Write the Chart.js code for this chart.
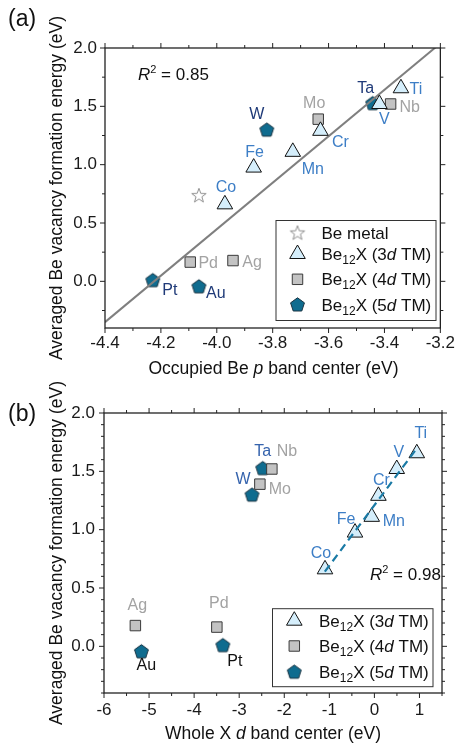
<!DOCTYPE html>
<html><head><meta charset="utf-8">
<script src="https://cdn.jsdelivr.net/npm/chart.js@4/dist/chart.umd.min.js"></script>
<style>
html,body{margin:0;padding:0;background:#fff;}
body{width:460px;height:747px;overflow:hidden;position:relative;}
#ca{position:absolute;left:0;top:0;}
#cb{position:absolute;left:0;top:379px;}
</style></head><body>
<canvas id="ca" width="460" height="379"></canvas>
<canvas id="cb" width="460" height="368"></canvas>
<script>
// ---------------- data ----------------
const elem3d  = ['Ti', 'V', 'Cr', 'Mn', 'Fe', 'Co'];
const eVac3d  = [1.655, 1.52, 1.29, 1.11, 0.975, 0.66];
const pBand3d = [-3.341, -3.418, -3.629, -3.728, -3.868, -3.971];
const dBand3d = [0.941, 0.496, 0.089, -0.059, -0.43, -1.096];

const elem4d  = ['Nb', 'Mo', 'Pd', 'Ag'];
const eVac4d  = [1.52, 1.39, 0.165, 0.178];
const pBand4d = [-3.378, -3.637, -4.095, -3.942];
const dBand4d = [-2.275, -2.541, -3.496, -5.304];

const elem5d  = ['Ta', 'W', 'Pt', 'Au'];
const eVac5d  = [1.527, 1.30, 0.01, -0.043];
const pBand5d = [-3.442, -3.821, -4.229, -4.064];
const dBand5d = [-2.478, -2.715, -3.363, -5.17];

const beMetalP = [-4.064];
const beMetalE = [0.739];

const fitAX = [-4.4, -3.2];
const fitAY = [-0.35, 2.04];
const fitBX = [-1.1, 0.9];
const fitBY = [0.64, 1.676];

const xTicksA = [-4.4, -4.2, -4.0, -3.8, -3.6, -3.4, -3.2];
const xTicksB = [-6, -5, -4, -3, -2, -1, 0, 1];
const yTicks  = [0.0, 0.5, 1.0, 1.5, 2.0];
const r2A = '0.85';
const r2B = '0.98';

// ---------------- helpers ----------------
const FONT = '"Liberation Sans", Arial, Helvetica, sans-serif';
const zip = (xs, ys) => xs.map((x, i) => ({x: x, y: ys[i]}));

function pentagonImg(R, fill, stroke, lw) {
  const s = Math.ceil(2 * R + 2 * lw + 2);
  const c = document.createElement('canvas'); c.width = s; c.height = s;
  const g = c.getContext('2d');
  g.beginPath();
  for (let k = 0; k < 5; k++) {
    const a = -Math.PI / 2 + k * 2 * Math.PI / 5;
    const px = s / 2 + R * Math.cos(a), py = s / 2 + 0.6 + R * Math.sin(a);
    k ? g.lineTo(px, py) : g.moveTo(px, py);
  }
  g.closePath(); g.fillStyle = fill; g.fill();
  g.lineWidth = lw; g.strokeStyle = stroke; g.stroke();
  return c;
}
function starImg(R, r, fill, stroke, lw) {
  const s = Math.ceil(2 * R + 2 * lw + 2);
  const c = document.createElement('canvas'); c.width = s; c.height = s;
  const g = c.getContext('2d');
  g.beginPath();
  for (let k = 0; k < 10; k++) {
    const a = -Math.PI / 2 + k * Math.PI / 5;
    const rr = k % 2 ? r : R;
    const px = s / 2 + rr * Math.cos(a), py = s / 2 + 0.8 + rr * Math.sin(a);
    k ? g.lineTo(px, py) : g.moveTo(px, py);
  }
  g.closePath(); g.fillStyle = fill; g.fill();
  g.lineWidth = lw; g.strokeStyle = stroke; g.stroke();
  return c;
}

const PENT = pentagonImg(7.3, '#0f6c8f', '#1b3442', 1);
const STAR = starImg(7.6, 3.1, '#ffffff', '#8f8f8f', 1);

const TRI_STYLE  = {pointStyle: 'triangle', radius: 9, fill: '#d5eefb', stroke: '#111', bw: 1};
const SQ_STYLE   = {pointStyle: 'rect', radius: 7.4, fill: '#c3c3c3', stroke: '#3a3a3a', bw: 1};

function drawRich(ctx, segs, x, y, align, color) {
  let w = 0;
  segs.forEach(sg => {
    ctx.font = (sg.i ? 'italic ' : '') + sg.s + 'px ' + FONT;
    sg._w = ctx.measureText(sg.t).width; w += sg._w;
  });
  let cx = align === 'center' ? x - w / 2 : (align === 'right' ? x - w : x);
  ctx.textAlign = 'left';
  ctx.fillStyle = color || '#111';
  segs.forEach(sg => {
    ctx.font = (sg.i ? 'italic ' : '') + sg.s + 'px ' + FONT;
    ctx.fillText(sg.t, cx, y + (sg.dy || 0));
    cx += sg._w;
  });
}

function tickPlugin(cfg) {
  return {
    id: 'ticksFrame',
    afterDraw(chart) {
      const ctx = chart.ctx, a = chart.chartArea, xs = chart.scales.x, ys = chart.scales.y;
      ctx.save();
      ctx.strokeStyle = '#222'; ctx.lineWidth = 1;
      const each = (scale, step, major, fn) => {
        const k0 = Math.ceil(scale.min / step - 1e-6), k1 = Math.floor(scale.max / step + 1e-6);
        for (let k = k0; k <= k1; k++) {
          const v = k * step;
          const isMaj = Math.abs(v / major - Math.round(v / major)) < 1e-6;
          fn(scale.getPixelForValue(v), isMaj);
        }
      };
      ctx.beginPath();
      each(xs, cfg.xMinor, cfg.xMajor, (p, m) => {
        const L = m ? cfg.maj : cfg.min;
        ctx.moveTo(p, a.bottom); ctx.lineTo(p, a.bottom + L * cfg.dirB);
        ctx.moveTo(p, a.top); ctx.lineTo(p, a.top - L * cfg.dirT);
      });
      each(ys, cfg.yMinor, cfg.yMajor, (p, m) => {
        const L = m ? cfg.maj : cfg.min;
        ctx.moveTo(a.left, p); ctx.lineTo(a.left - L * cfg.dirL, p);
        ctx.moveTo(a.right, p); ctx.lineTo(a.right + L * cfg.dirR, p);
      });
      ctx.stroke();
      ctx.lineWidth = 1.3;
      ctx.strokeRect(a.left, a.top, a.right - a.left, a.bottom - a.top);
      ctx.restore();
    }
  };
}

function labelPlugin(series) {
  return {
    id: 'ptLabels',
    afterDatasetsDraw(chart) {
      const ctx = chart.ctx;
      ctx.save();
      ctx.font = '16px ' + FONT;
      ctx.textAlign = 'center'; ctx.textBaseline = 'middle';
      series.forEach(s => {
        const meta = chart.getDatasetMeta(s.ds);
        s.names.forEach((n, i) => {
          const el = meta.data[i]; const o = s.off[n];
          ctx.fillStyle = (s.colors && s.colors[n]) || s.color;
          ctx.fillText(n, el.x + o[0], el.y + o[1]);
        });
      });
      ctx.restore();
    }
  };
}

function legendPlugin(cfg) {
  return {
    id: 'customLegend',
    afterDraw(chart) {
      const ctx = chart.ctx;
      ctx.save();
      ctx.strokeStyle = '#333'; ctx.lineWidth = 1;
      ctx.strokeRect(cfg.box[0], cfg.box[1], cfg.box[2], cfg.box[3]);
      cfg.rows.forEach(r => {
        if (r.img) {
          Chart.helpers.drawPoint(ctx, {pointStyle: r.img, radius: 8, borderWidth: 0, rotation: 0}, cfg.mx, r.y);
        } else {
          ctx.fillStyle = r.st.fill; ctx.strokeStyle = r.st.stroke; ctx.lineWidth = r.st.bw;
          Chart.helpers.drawPoint(ctx, {pointStyle: r.st.pointStyle, radius: r.st.radius, borderWidth: r.st.bw, rotation: 0}, cfg.mx, r.y);
        }
        ctx.textBaseline = 'alphabetic';
        drawRich(ctx, r.segs, cfg.tx, r.y + 6, 'left', '#111');
      });
      ctx.restore();
    }
  };
}

function textPlugin(items) {
  return {
    id: 'extraText',
    afterDraw(chart) {
      const ctx = chart.ctx;
      ctx.save();
      items.forEach(it => {
        ctx.save();
        ctx.translate(it.x, it.y);
        if (it.rot) ctx.rotate(it.rot);
        ctx.textBaseline = 'alphabetic';
        drawRich(ctx, it.segs, 0, 0, it.align, it.color);
        ctx.restore();
      });
      ctx.restore();
    }
  };
}

function beSeg(n) {
  return [{t: 'Be', s: 17}, {t: '12', s: 12, dy: 4}, {t: 'X (' + n, s: 17}, {t: 'd', s: 17, i: true}, {t: ' TM)', s: 17}];
}

function axisOpts(min, max, tickArr, fmt, size, pad, isX) {
  return {
    type: 'linear', min: min, max: max,
    afterBuildTicks: s => { s.ticks = tickArr.map(v => ({value: v})); },
    afterFit: s => { if (isX) s.height = size; else s.width = size; },
    grid: {display: false, drawTicks: false},
    border: {display: false},
    ticks: {padding: pad, color: '#1a1a1a', font: {size: 17, family: FONT}, callback: fmt}
  };
}

Chart.defaults.font.family = FONT;

// ---------------- chart (a) ----------------
const offA = {
  Co: [1, -17], Fe: [1, -15], Mn: [20, 18], Cr: [20, 12], V: [5, 16], Ti: [15, 1],
  Mo: [-4, -16], Nb: [19, 4], Pd: [18, 2], Ag: [19, 2],
  W: [-10, -15], Ta: [-7, -15], Pt: [17, 10], Au: [17, 7]
};
new Chart(document.getElementById('ca'), {
  type: 'scatter',
  data: {datasets: [
    {data: zip(pBand3d, eVac3d), pointStyle: 'triangle', pointRadius: 9, backgroundColor: '#d5eefb', borderColor: '#111', borderWidth: 1, order: 0},
    {type: 'line', data: zip(fitAX, fitAY), borderColor: '#7f7f7f', borderWidth: 2, pointRadius: 0, fill: false, clip: 0, order: 1},
    {data: zip(pBand4d, eVac4d), pointStyle: 'rect', pointRadius: 7.4, backgroundColor: '#c3c3c3', borderColor: '#3a3a3a', borderWidth: 1, order: 2},
    {data: zip(pBand5d, eVac5d), pointStyle: PENT, pointRadius: 8, order: 3},
    {data: zip(beMetalP, beMetalE), pointStyle: STAR, pointRadius: 8, order: 4}
  ]},
  options: {
    responsive: false, animation: false, events: [], devicePixelRatio: 1,
    layout: {padding: {left: 0, top: 48, right: 18, bottom: 0}},
    plugins: {legend: {display: false}, tooltip: {enabled: false}},
    scales: {
      x: axisOpts(-4.4, -3.2, xTicksA, v => v.toFixed(1), 51, 5, true),
      y: axisOpts(-0.4, 2.0, yTicks, v => v.toFixed(1), 105, 8, false)
    }
  },
  plugins: [
    tickPlugin({xMajor: 0.2, xMinor: 0.1, yMajor: 0.5, yMinor: 0.25, maj: 5, min: 3, dirB: 1, dirT: 1, dirL: 1, dirR: 1}),
    labelPlugin([
      {ds: 0, names: elem3d, color: '#3d7ec6', off: offA},
      {ds: 2, names: elem4d, color: '#a3a3a3', off: offA},
      {ds: 3, names: elem5d, color: '#1f3a78', off: offA}
    ]),
    legendPlugin({box: [276, 220.5, 160, 100], mx: 297.5, tx: 321.5, rows: [
      {img: STAR, y: 232.5, segs: [{t: 'Be metal', s: 17}]},
      {st: TRI_STYLE, y: 254, segs: beSeg('3')},
      {st: SQ_STYLE, y: 279.3, segs: beSeg('4')},
      {img: PENT, y: 304.5, segs: beSeg('5')}
    ]}),
    textPlugin([
      {x: 8, y: 26, align: 'left', color: '#111', segs: [{t: '(a)', s: 23}]},
      {x: 138, y: 79.5, align: 'left', color: '#111', segs: [{t: 'R', s: 17, i: true}, {t: '2', s: 11, dy: -7}, {t: ' = ' + r2A, s: 17}]},
      {x: 273.5, y: 374, align: 'center', color: '#111', segs: [{t: 'Occupied Be ', s: 17.5}, {t: 'p', s: 17.5, i: true}, {t: ' band center (eV)', s: 17.5}]},
      {x: 62, y: 188, rot: -Math.PI / 2, align: 'center', color: '#111', segs: [{t: 'Averaged Be vacancy formation energy (eV)', s: 17.5}]}
    ])
  ]
});

// ---------------- chart (b) ----------------
const offB = {
  Ti: [4, -20], V: [2, -16], Cr: [3, -15], Mn: [22, 5], Fe: [-9, -13], Co: [-4, -16],
  Nb: [15, -17], Mo: [20, 5], Ag: [2, -20], Pd: [2, -23],
  Ta: [0, -17], W: [-9, -15], Au: [5, 14], Pt: [12, 16]
};
new Chart(document.getElementById('cb'), {
  type: 'scatter',
  data: {datasets: [
    {data: zip(dBand3d, eVac3d), pointStyle: 'triangle', pointRadius: 9, backgroundColor: '#d5eefb', borderColor: '#111', borderWidth: 1, order: 1},
    {type: 'line', data: zip(fitBX, fitBY), borderColor: '#1a7aa5', borderWidth: 2.2, borderDash: [8, 5], pointRadius: 0, fill: false, clip: 0, order: 0},
    {data: zip(dBand4d, eVac4d), pointStyle: 'rect', pointRadius: 7.4, backgroundColor: '#c3c3c3', borderColor: '#3a3a3a', borderWidth: 1, order: 2},
    {data: zip(dBand5d, eVac5d), pointStyle: PENT, pointRadius: 8, order: 3}
  ]},
  options: {
    responsive: false, animation: false, events: [], devicePixelRatio: 1,
    layout: {padding: {left: 0, top: 34, right: 18, bottom: 0}},
    plugins: {legend: {display: false}, tooltip: {enabled: false}},
    scales: {
      x: axisOpts(-6, 1.5, xTicksB, v => String(v), 54, 7, true),
      y: axisOpts(-0.4, 2.0, yTicks, v => v.toFixed(1), 104, 9, false)
    }
  },
  plugins: [
    tickPlugin({xMajor: 1, xMinor: 0.5, yMajor: 0.5, yMinor: 0.1, maj: 5, min: 3, dirB: 1, dirT: 1, dirL: 1, dirR: 1}),
    labelPlugin([
      {ds: 0, names: elem3d, color: '#3d7ec6', off: offB},
      {ds: 2, names: elem4d, color: '#a3a3a3', off: offB},
      {ds: 3, names: elem5d, color: '#3563ad', colors: {Au: '#111', Pt: '#111'}, off: offB}
    ]),
    legendPlugin({box: [272.5, 229.7, 160.5, 78], mx: 294.3, tx: 319, rows: [
      {st: TRI_STYLE, y: 241.7, segs: beSeg('3')},
      {st: SQ_STYLE, y: 267, segs: beSeg('4')},
      {img: PENT, y: 292.7, segs: beSeg('5')}
    ]}),
    textPlugin([
      {x: 8, y: 42, align: 'left', color: '#111', segs: [{t: '(b)', s: 23}]},
      {x: 370, y: 201, align: 'left', color: '#111', segs: [{t: 'R', s: 17, i: true}, {t: '2', s: 11, dy: -7}, {t: ' = ' + r2B, s: 17}]},
      {x: 273, y: 360, align: 'center', color: '#111', segs: [{t: 'Whole X ', s: 17.5}, {t: 'd', s: 17.5, i: true}, {t: ' band center (eV)', s: 17.5}]},
      {x: 62, y: 174, rot: -Math.PI / 2, align: 'center', color: '#111', segs: [{t: 'Averaged Be vacancy formation energy (eV)', s: 17.5}]}
    ])
  ]
});
</script>
</body></html>
